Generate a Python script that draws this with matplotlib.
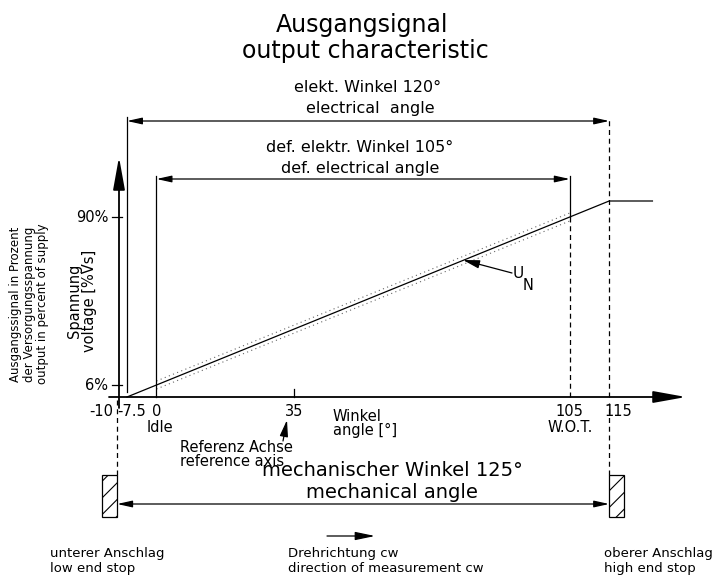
import matplotlib
matplotlib.use("Agg")
import matplotlib.pyplot as plt
from matplotlib.patches import Rectangle

plt.rcParams['font.family'] = ['DejaVu Sans']
plt.rcParams['hatch.linewidth'] = 0.8

# output characteristic (angle in degrees, signal in % of supply)
curve_angle = [-7.5, 0, 105, 115, 126]
curve_pct = [0, 6, 90, 98, 98]
tol_angle = [0, 105]
tol_pct = [6, 90]
tol_band = 2.0

angle_ticks = [-10, -7.5, 0, 35, 105, 115]
angle_labels = ['-10', '-7.5', '0', '35', '105', '115']
pct_ticks = [6, 90]
pct_labels = ['6%', '90%']

elec_angle = [-7.5, 115]      # elekt. Winkel 120°
def_elec_angle = [0, 105]     # def. elektr. Winkel 105°
mech_angle = [-10, 115]       # mechanischer Winkel 125°

# pixel -> data helpers (only for placing annotations)
SX, X0, SY, Y0 = 3.936, 156.5, 2.0, 397.0
def P(xp, yp):
    return ((xp - X0) / SX, (Y0 - yp) / SY)

fig = plt.figure(figsize=(7.15, 5.77), dpi=100)
ax = fig.add_axes([0, 0, 1, 1])
ax.set_xlim(-X0 / SX, (715 - X0) / SX)
ax.set_ylim(-(577 - Y0) / SY, Y0 / SY)
ax.axis('off')

lw = 0.9
k = 'black'

# axes with arrows
big = dict(arrowstyle='-|>,head_length=2.0,head_width=0.36', mutation_scale=10,
           lw=1.3, color=k, shrinkA=0, shrinkB=0)
ax.annotate('', xy=P(686, 397), xytext=P(109, 397), arrowprops=big)
ax.annotate('', xy=P(119, 157), xytext=P(119, 408), arrowprops=big)

# curve and tolerance band
ax.plot(curve_angle, curve_pct, color=k, lw=lw)
ax.plot(tol_angle, [v + tol_band for v in tol_pct], color='0.4', lw=0.8, ls=(0, (1, 3)))
ax.plot(tol_angle, [v - tol_band for v in tol_pct], color='0.4', lw=0.8, ls=(0, (1, 3)))

# ticks
for v in pct_ticks:
    ax.plot([-11.2, -8.8], [v, v], color=k, lw=lw)
ax.plot([35, 35], [0, 4], color=k, lw=lw)
for a, lab in zip(angle_ticks, angle_labels):
    dx = {-10: -4.0, -7.5: 1.2, 115: 2.3}.get(a, 0)
    ax.text(a + dx, -3.5, lab, ha='center', va='top', fontsize=10.5)
for v, lab in zip(pct_ticks, pct_labels):
    ax.text(-12.3, v, lab, ha='right', va='center', fontsize=10.5)
ax.text(0.8, -11.5, 'Idle', ha='center', va='top', fontsize=10.5)
ax.text(105, -11.5, 'W.O.T.', ha='center', va='top', fontsize=10.5)
ax.text(*P(333, 409), 'Winkel\nangle [°]', ha='left', va='top', fontsize=10.5, linespacing=0.95)

# extension lines
ax.plot([elec_angle[0]] * 2, [curve_pct[0] + 2.5, P(0, 117)[1]], color=k, lw=lw)
ax.plot([def_elec_angle[0]] * 2, [0, P(0, 176)[1]], color=k, lw=lw)
ax.plot([def_elec_angle[1]] * 2, [90, P(0, 176)[1]], color=k, lw=lw)
ax.plot([def_elec_angle[1]] * 2, [0, 90], color=k, lw=lw, ls=(0, (4, 3)))
ax.plot([elec_angle[1]] * 2, [0, P(0, 117)[1]], color=k, lw=lw, ls=(0, (4, 3)))
ax.plot([mech_angle[0]] * 2, [P(0, 475)[1], 0], color=k, lw=lw, ls=(0, (4, 3)))
ax.plot([mech_angle[1]] * 2, [P(0, 475)[1], -3], color=k, lw=lw, ls=(0, (4, 3)))

# dimension lines
dim = dict(arrowstyle='<|-|>,head_length=0.9,head_width=0.2', mutation_scale=10,
           lw=lw, color=k, shrinkA=0, shrinkB=0)
ax.annotate('', xy=(elec_angle[0], P(0, 121)[1]), xytext=(elec_angle[1], P(0, 121)[1]), arrowprops=dim)
ax.annotate('', xy=(def_elec_angle[0], P(0, 179)[1]), xytext=(def_elec_angle[1], P(0, 179)[1]), arrowprops=dim)
ax.annotate('', xy=(mech_angle[0], P(0, 504)[1]), xytext=(mech_angle[1], P(0, 504)[1]), arrowprops=dim)

# end stops
hw = 15 / SX
for a, off in [(mech_angle[0], -hw), (mech_angle[1], 0)]:
    y_top, y_bot = P(0, 475)[1], P(0, 517)[1]
    ax.add_patch(Rectangle((a + off, y_bot), hw, y_top - y_bot, fill=False,
                           edgecolor=k, lw=lw, hatch='//'))

# labels
ax.text(*P(362, 25), 'Ausgangsignal', ha='center', va='center', fontsize=17)
ax.text(*P(365, 51), 'output characteristic', ha='center', va='center', fontsize=17)
ax.text(*P(368, 88), 'elekt. Winkel 120°', ha='center', va='center', fontsize=11.5)
ax.text(*P(370, 109), 'electrical  angle', ha='center', va='center', fontsize=11.5)
ax.text(*P(360, 147), 'def. elektr. Winkel 105°', ha='center', va='center', fontsize=11.5)
ax.text(*P(360, 168), 'def. electrical angle', ha='center', va='center', fontsize=11.5)
ax.text(*P(392, 471), 'mechanischer Winkel 125°', ha='center', va='center', fontsize=14)
ax.text(*P(392, 493), 'mechanical angle', ha='center', va='center', fontsize=14)

ax.text(*P(82, 301), 'Spannung\nvoltage [%Vs]', ha='center', va='center', rotation=90,
        fontsize=10.5, linespacing=0.95)
ax.text(*P(29, 304), 'Ausgangssignal in Prozent\nder Versorgungsspannung\noutput in percent of supply',
        ha='center', va='center', rotation=90, fontsize=8.5, linespacing=1.05)

ax.text(*P(180, 440), 'Referenz Achse\nreference axis', ha='left', va='top', fontsize=10.5,
        linespacing=0.95)
small = dict(arrowstyle='-|>,head_length=1.0,head_width=0.25', mutation_scale=10,
             lw=lw, color=k, shrinkA=0, shrinkB=0)
ax.annotate('', xy=P(287, 420), xytext=P(283, 441), arrowprops=small)

ax.text(*P(513, 273), 'U', ha='left', va='center', fontsize=11)
ax.text(*P(523, 285), 'N', ha='left', va='center', fontsize=10.5)
ax.annotate('', xy=P(463, 260), xytext=P(512, 273), arrowprops=small)

ax.annotate('', xy=P(375, 536), xytext=P(327, 536),
            arrowprops=dict(arrowstyle='-|>,head_length=1.2,head_width=0.25', mutation_scale=10,
                            lw=lw, color=k, shrinkA=0, shrinkB=0))

bt = dict(ha='left', va='center', fontsize=9.5, linespacing=1.15)
ax.text(*P(50, 561), 'unterer Anschlag\nlow end stop', **bt)
ax.text(*P(288, 561), 'Drehrichtung cw\ndirection of measurement cw', **bt)
ax.text(*P(604, 561), 'oberer Anschlag\nhigh end stop', **bt)

fig.savefig('out.png', dpi=100)
